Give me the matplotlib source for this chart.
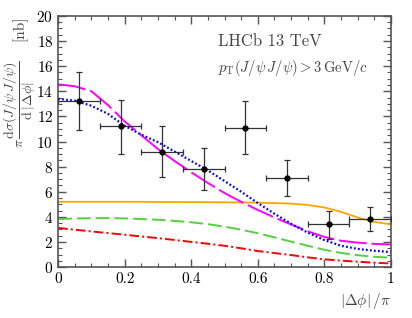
import matplotlib
matplotlib.use('Agg')
import matplotlib.pyplot as plt
from matplotlib.ticker import MultipleLocator

# measured points (8 bins in |dphi|/pi)
x_data = [0.0625, 0.1875, 0.3125, 0.4375, 0.5625, 0.6875, 0.8125, 0.9375]
x_err = [0.0625] * 8
y_data = [13.2, 11.2, 9.2, 7.8, 11.1, 7.1, 3.4, 3.85]
y_up = [15.5, 13.3, 11.2, 9.5, 13.2, 8.5, 4.5, 4.8]
y_lo = [10.9, 9.0, 7.2, 6.1, 9.0, 5.7, 2.2, 2.9]

# model curves
x_curve = [0.0, 0.05, 0.1, 0.15, 0.2, 0.25, 0.3, 0.35, 0.4, 0.45, 0.5,
           0.55, 0.6, 0.65, 0.7, 0.75, 0.8, 0.85, 0.9, 0.95, 1.0]
magenta = [14.55, 14.4, 14.0, 12.9, 11.6, 10.5, 9.4, 8.45, 7.55, 6.7, 5.9,
           5.2, 4.55, 3.95, 3.4, 2.85, 2.4, 2.1, 1.95, 1.85, 1.8]
blue = [13.4, 13.25, 12.85, 12.2, 11.25, 10.55, 9.95, 9.2, 8.45, 7.7, 6.85,
        6.0, 5.1, 4.25, 3.45, 2.75, 2.15, 1.7, 1.45, 1.3, 1.2]
orange = [5.2, 5.2, 5.2, 5.2, 5.2, 5.2, 5.18, 5.18, 5.17, 5.17, 5.16,
          5.15, 5.13, 5.1, 5.05, 4.95, 4.75, 4.4, 3.95, 3.6, 3.4]
green = [3.83, 3.87, 3.9, 3.9, 3.88, 3.83, 3.77, 3.68, 3.57, 3.42, 3.22,
         2.98, 2.7, 2.37, 2.03, 1.7, 1.38, 1.13, 0.95, 0.82, 0.75]
red = [3.12, 2.98, 2.84, 2.71, 2.58, 2.44, 2.31, 2.16, 2.01, 1.86, 1.7,
       1.5, 1.28, 1.12, 0.96, 0.78, 0.62, 0.52, 0.43, 0.35, 0.29]

plt.rcParams['font.family'] = 'serif'
plt.rcParams['font.serif'] = ['cmr10', 'DejaVu Serif']
plt.rcParams['mathtext.fontset'] = 'cm'
plt.rcParams['axes.formatter.use_mathtext'] = True
plt.rcParams['lines.scale_dashes'] = False

fig = plt.figure(figsize=(4.12, 3.18), dpi=100)
ax = fig.add_axes([0.141, 0.160, 0.808, 0.790])

ax.plot(x_curve, orange, color='#ffa500', lw=1.3)
ax.plot(x_curve, green, color='#55d040', lw=1.4, dashes=(10, 3.5))
ax.plot(x_curve, red, color='#ff0000', lw=1.4, dashes=(7, 2.2, 1.5, 2.2))
ax.plot(x_curve, magenta, color='#ff00ff', lw=1.4, dashes=(20, 3.5))
ax.plot(x_curve, blue, color='#0000ff', lw=1.6, dashes=(1.3, 1.6))

err_lo = [y - l for y, l in zip(y_data, y_lo)]
err_hi = [u - y for y, u in zip(y_data, y_up)]
ax.errorbar(x_data, y_data, xerr=x_err, yerr=[err_lo, err_hi], fmt='o',
            color='black', ecolor='#333333', elinewidth=0.9, capsize=2.2,
            capthick=0.9, markersize=3.5, zorder=5)

ax.set_xlim(0, 1)
ax.set_ylim(0, 20)
ax.xaxis.set_major_locator(MultipleLocator(0.2))
ax.xaxis.set_minor_locator(MultipleLocator(0.05))
ax.yaxis.set_major_locator(MultipleLocator(2))
ax.yaxis.set_minor_locator(MultipleLocator(0.5))
ax.xaxis.set_major_formatter(plt.FuncFormatter(lambda v, p: '%g' % v))
ax.tick_params(which='both', direction='in', top=True, right=True,
               labelsize=11, color='#555555')
ax.tick_params(which='major', length=6, width=1)
ax.tick_params(which='minor', length=3, width=0.8)
for s in ax.spines.values():
    s.set_color('#555555')
    s.set_linewidth(1.2)

ax.set_xlabel(r'$|\Delta\phi|\,/\pi$', loc='right', fontsize=11, color='#444444')
fig.text(0.047, 0.672,
         r'$\pi\,\dfrac{\mathrm{d}\sigma(J/\psi\,J/\psi)}{\mathrm{d}\,|\Delta\phi|}$',
         rotation=90, ha='center', va='center', fontsize=10, color='#444444')
fig.text(0.046, 0.912, '[nb]', rotation=90, ha='center', va='center',
         fontsize=11, color='#444444')

ax.text(0.48, 0.88, 'LHCb 13 TeV', transform=ax.transAxes, fontsize=12,
        color='#444444')
ax.text(0.48, 0.775, r'$p_{\mathrm{T}}(J/\psi\,J/\psi) > 3\,\mathrm{GeV}/c$',
        transform=ax.transAxes, fontsize=10.5, color='#444444')

fig.savefig('out.png', dpi=100)
